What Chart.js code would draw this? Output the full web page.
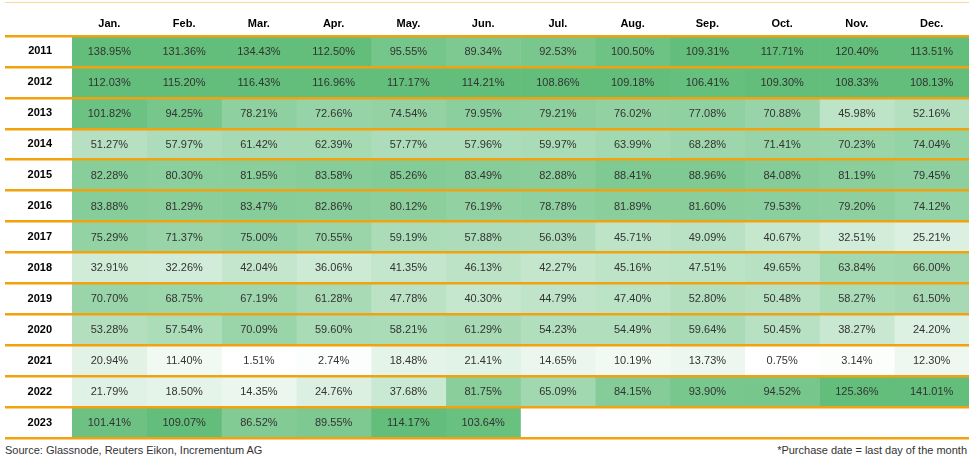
<!DOCTYPE html>
<html>
<head>
<meta charset="utf-8">
<script src="https://cdn.jsdelivr.net/npm/chart.js@4"></script>
<style>
  body { margin: 0; background: #fff; font-family: "Liberation Sans", Arial, sans-serif; }
  #wrap { position: relative; width: 975px; height: 468px; }
  #topline { position: absolute; left: 5px; top: 2px; width: 964px; height: 0; border-top: 1.5px solid #f8d99a; }
  #chart { position: absolute; left: 0; top: 0; }
  .note { position: absolute; top: 444px; font-size: 11px; color: #333; }
</style>
</head>
<body>
<div id="wrap">
  <canvas id="chart" width="975" height="440"></canvas>
  <div id="topline"></div>
  <div class="note" style="left:5px;">Source: Glassnode, Reuters Eikon, Incrementum AG</div>
  <div class="note" style="right:8px;">*Purchase date = last day of the month</div>
</div>
<script>
const months = ['Jan.', 'Feb.', 'Mar.', 'Apr.', 'May.', 'Jun.', 'Jul.', 'Aug.', 'Sep.', 'Oct.', 'Nov.', 'Dec.'];
const years = ['2011', '2012', '2013', '2014', '2015', '2016', '2017', '2018', '2019', '2020', '2021', '2022', '2023'];

// return in % per purchase month
const r2011 = [138.95, 131.36, 134.43, 112.50, 95.55, 89.34, 92.53, 100.50, 109.31, 117.71, 120.40, 113.51];
const r2012 = [112.03, 115.20, 116.43, 116.96, 117.17, 114.21, 108.86, 109.18, 106.41, 109.30, 108.33, 108.13];
const r2013 = [101.82, 94.25, 78.21, 72.66, 74.54, 79.95, 79.21, 76.02, 77.08, 70.88, 45.98, 52.16];
const r2014 = [51.27, 57.97, 61.42, 62.39, 57.77, 57.96, 59.97, 63.99, 68.28, 71.41, 70.23, 74.04];
const r2015 = [82.28, 80.30, 81.95, 83.58, 85.26, 83.49, 82.88, 88.41, 88.96, 84.08, 81.19, 79.45];
const r2016 = [83.88, 81.29, 83.47, 82.86, 80.12, 76.19, 78.78, 81.89, 81.60, 79.53, 79.20, 74.12];
const r2017 = [75.29, 71.37, 75.00, 70.55, 59.19, 57.88, 56.03, 45.71, 49.09, 40.67, 32.51, 25.21];
const r2018 = [32.91, 32.26, 42.04, 36.06, 41.35, 46.13, 42.27, 45.16, 47.51, 49.65, 63.84, 66.00];
const r2019 = [70.70, 68.75, 67.19, 61.28, 47.78, 40.30, 44.79, 47.40, 52.80, 50.48, 58.27, 61.50];
const r2020 = [53.28, 57.54, 70.09, 59.60, 58.21, 61.29, 54.23, 54.49, 59.64, 50.45, 38.27, 24.20];
const r2021 = [20.94, 11.40, 1.51, 2.74, 18.48, 21.41, 14.65, 10.19, 13.73, 0.75, 3.14, 12.30];
const r2022 = [21.79, 18.50, 14.35, 24.76, 37.68, 81.75, 65.09, 84.15, 93.90, 94.52, 125.36, 141.01];
const r2023 = [101.41, 109.07, 86.52, 89.55, 114.17, 103.64];

const rows = [r2011, r2012, r2013, r2014, r2015, r2016, r2017, r2018, r2019, r2020, r2021, r2022, r2023];

const vMin = Math.min(...rows.flat());
const scaleTop = 108; // colour is saturated from here up

// white -> green colour scale like the spreadsheet one
function cellColor(v) {
    const t = Math.min(1, (v - vMin) / (scaleTop - vMin));
    const lo = [255, 255, 255], hi = [99, 190, 123];
    const c = lo.map((l, i) => Math.round(l + (hi[i] - l) * t));
    return `rgb(${c[0]},${c[1]},${c[2]})`;
}

const orange = '#f2a20c';

// one dataset per month, each cell is a floating bar [m, m+1]
const datasets = months.map((m, mi) => ({
    label: m,
    data: rows.map(r => r[mi] == null ? null : [mi, mi + 1]),
    backgroundColor: rows.map(r => r[mi] == null ? 'rgba(0,0,0,0)' : cellColor(r[mi])),
    borderWidth: 0,
    grouped: false,
    barPercentage: 1,
    categoryPercentage: 1
}));

const cellText = {
    id: 'cellText',
    afterDatasetsDraw(chart) {
        const ctx = chart.ctx;
        ctx.save();
        ctx.font = '11px "Liberation Sans", Arial, sans-serif';
        ctx.fillStyle = '#333';
        ctx.textAlign = 'center';
        ctx.textBaseline = 'middle';
        months.forEach((m, mi) => {
            const meta = chart.getDatasetMeta(mi);
            meta.data.forEach((bar, ri) => {
                const v = rows[ri][mi];
                if (v == null) return;
                const p = bar.getCenterPoint();
                ctx.fillText(v.toFixed(2) + '%', p.x, p.y + 0.5);
            });
        });
        ctx.restore();
    }
};

new Chart(document.getElementById('chart').getContext('2d'), {
    type: 'bar',
    data: { labels: years, datasets: datasets },
    options: {
        indexAxis: 'y',
        responsive: false,
        animation: false,
        layout: { padding: { left: 5, right: 6, top: 4, bottom: 2 } },
        plugins: { legend: { display: false }, tooltip: { enabled: false } },
        scales: {
            x: { type: 'linear', min: 0, max: 12, display: false },
            x2: {
                type: 'category',
                position: 'top',
                labels: months,
                offset: true,
                grid: { display: false },
                border: { display: false },
                ticks: { color: '#000', font: { family: '"Liberation Sans", Arial, sans-serif', size: 11, weight: 'bold' }, padding: -3 },
                afterFit(scale) { scale.height = 32; }
            },
            y: {
                type: 'category',
                offset: true,
                border: { display: false },
                grid: {
                    offset: true,
                    color: orange,
                    lineWidth: 2.5,
                    drawTicks: true,
                    tickLength: 67,
                    z: 1
                },
                ticks: {
                    color: '#000',
                    crossAlign: 'near',
                    padding: -47,
                    font: { family: '"Liberation Sans", Arial, sans-serif', size: 11, weight: 'bold' }
                },
                afterFit(scale) { scale.width = 67; }
            }
        }
    },
    plugins: [cellText]
});
</script>
</body>
</html>
